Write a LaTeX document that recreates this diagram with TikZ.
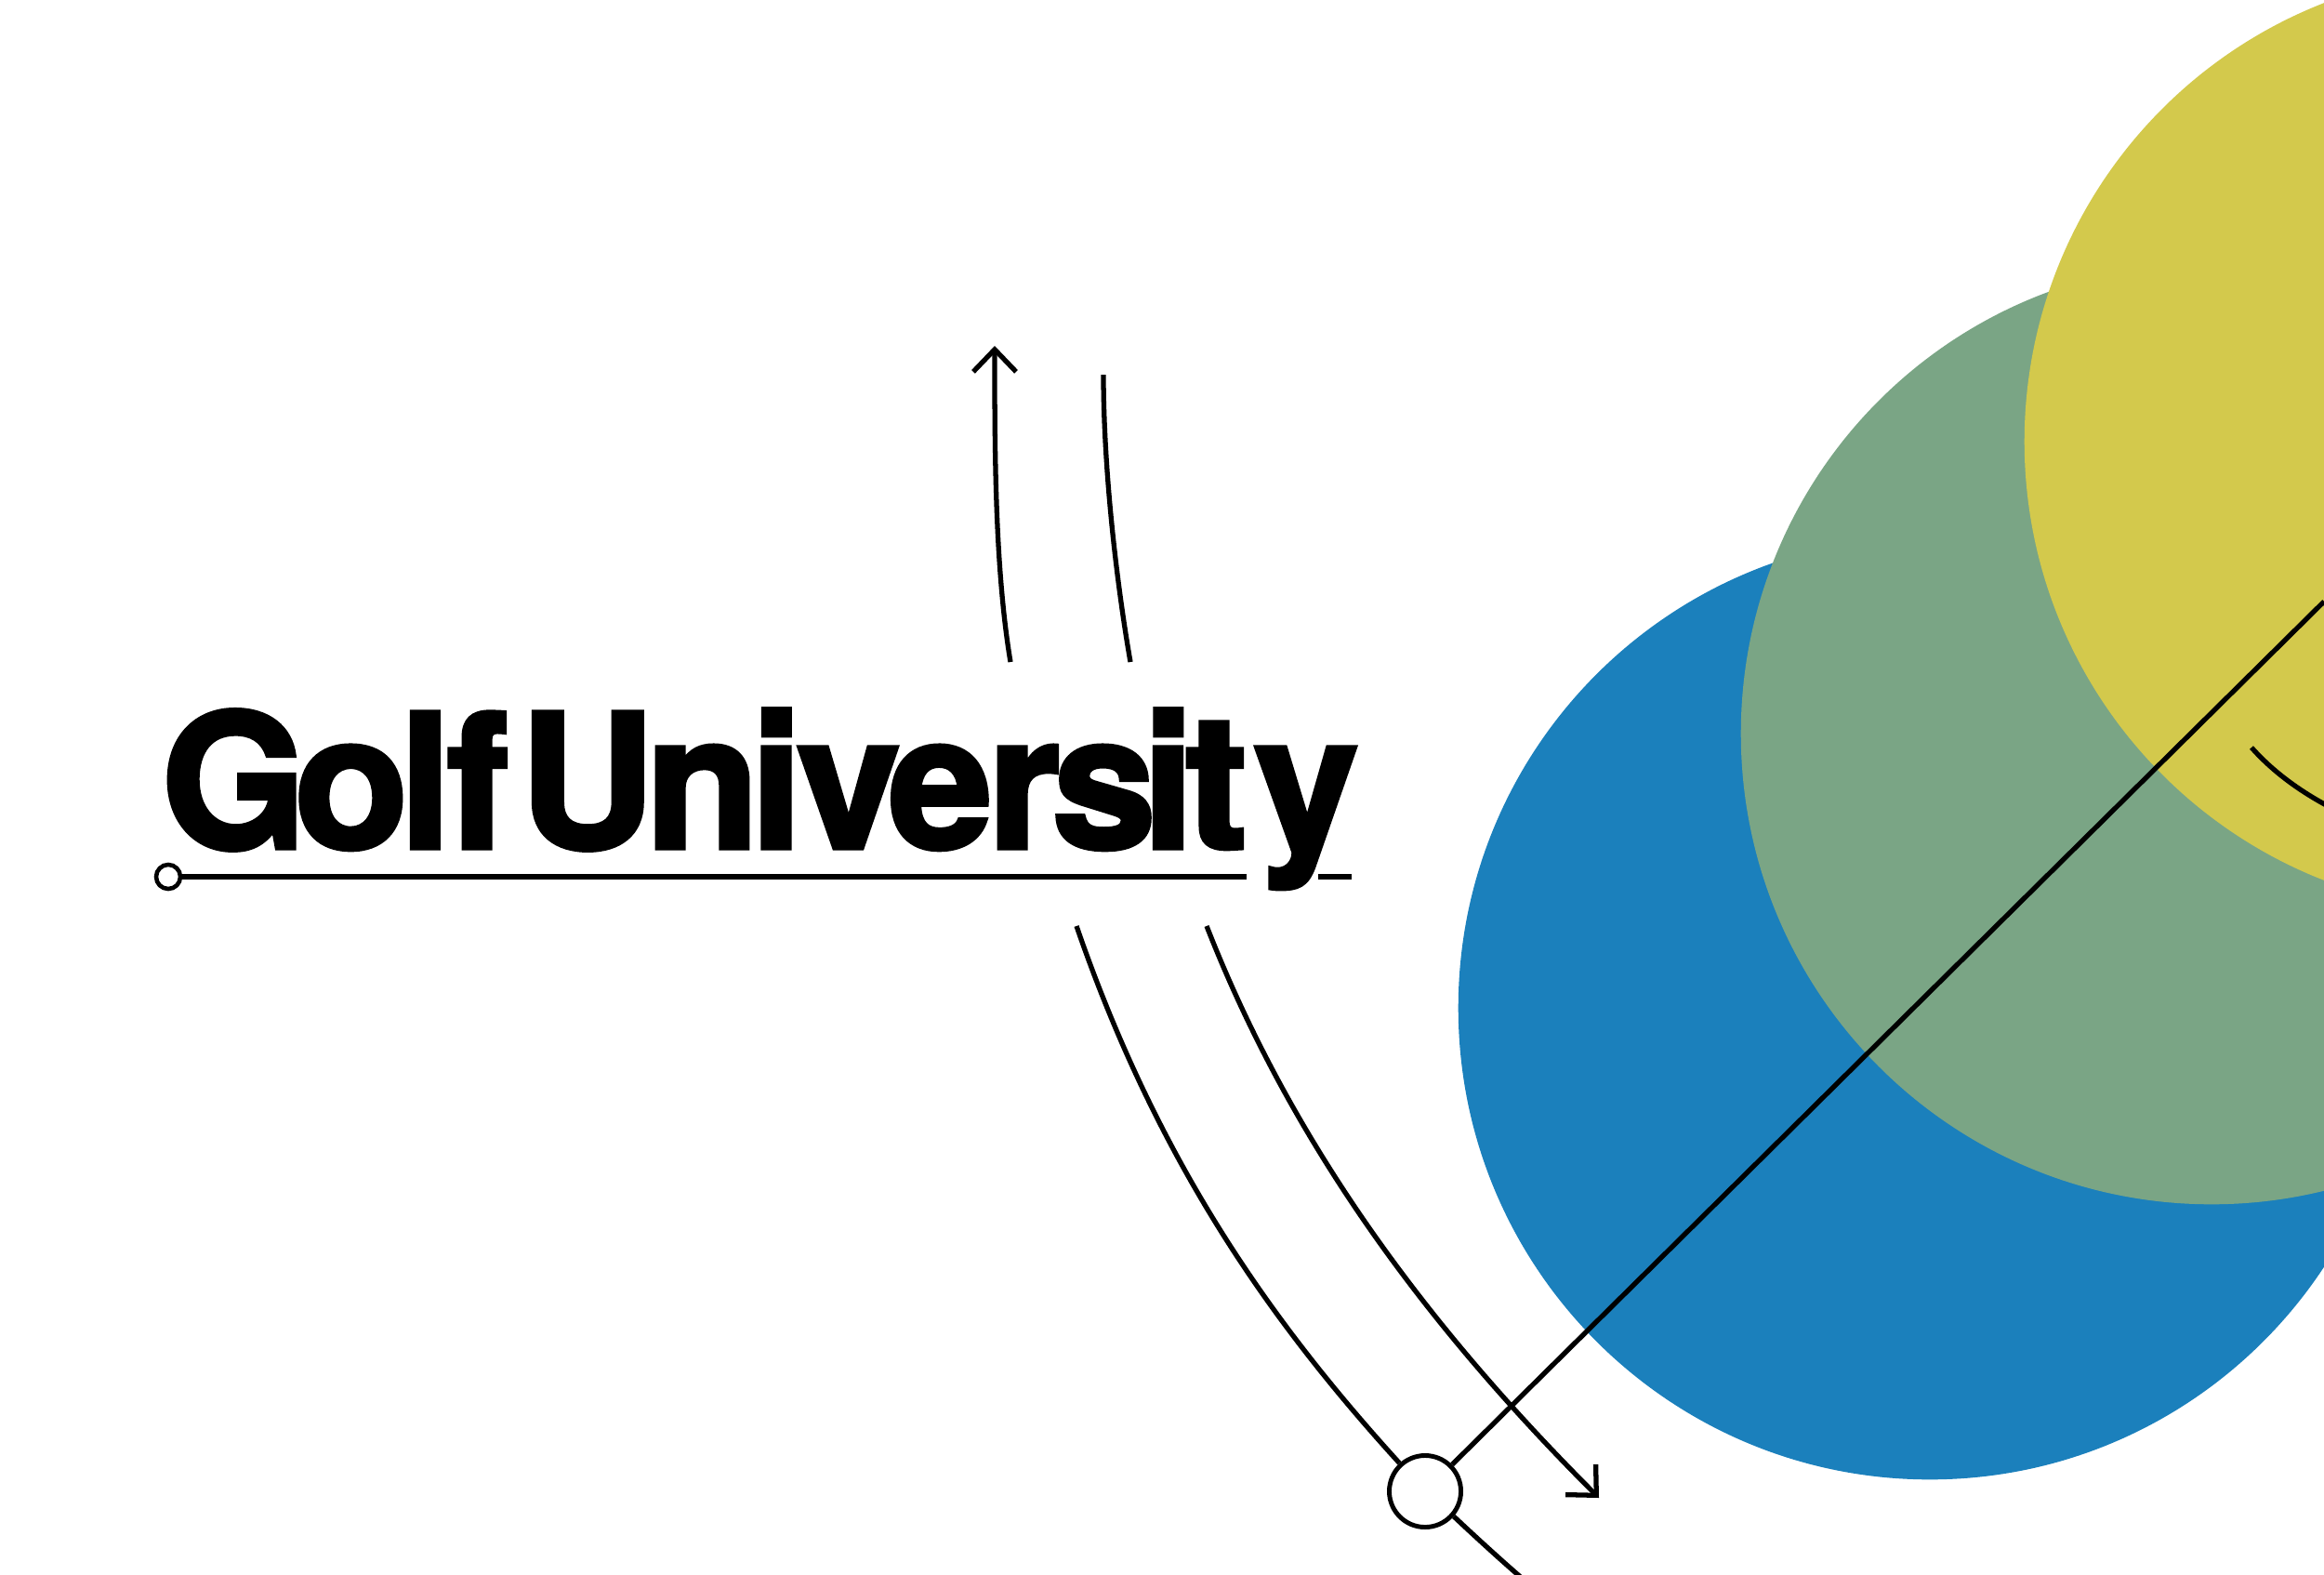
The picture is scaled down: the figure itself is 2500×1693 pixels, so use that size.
\documentclass[tikz,border=0pt]{standalone}
\usepackage{fontspec}
\usepackage{xcolor}
\usetikzlibrary{arrows.meta}
\newfontfamily\logofont[LetterSpace=-4.7,FakeBold=2.5,WordSpace=0.25]{TeX Gyre Heros Bold}
\tikzset{
    arcline/.style={line width=1.5pt},
    barbtip/.style={-{Straight Barb[length=0.24cm,width=0.46cm,line width=1.5pt]}},
    ringnode/.style={draw,circle,inner sep=0pt}
}

\begin{document}
\begin{tikzpicture}[x=0.01cm,y=-0.01cm]
        \definecolor{discblue}{RGB}{27,128,188}
        \definecolor{discgreen}{RGB}{122,165,133}
        \definecolor{discyellow}{RGB}{211,201,76}

        \useasboundingbox (0,0) rectangle (2500,1693);
        \clip (0,0) rectangle (2500,1693);
        \fill[white] (0,0) rectangle (2500,1693);

        \fill[discblue] (2076,1084) circle (5.07cm);
        \fill[discgreen] (2379,789) circle (5.06cm);
        \fill[discyellow] (2684,475) circle (5.06cm);

        \node[anchor=base west,inner sep=0pt] (title) at (173,912) {\logofont\fontsize{57}{60}\selectfont G\kern-3.7pt ol\kern-1.3pt f U\kern-2.7pt ni\kern-1.8pt ve\kern-1.4pt rs\kern-4.1pt it\kern2.2pt y};

        \coordinate (ruleend) at (1341,943);
        \coordinate (rulestub) at (1418,943);
        \coordinate (stubend) at (1454,943);
        \node[ringnode,line width=1.3pt,minimum size=0.26cm] (dot) at (181,943) {};
        \draw[line width=1.75pt] (dot) -- (ruleend);
        \draw[line width=1.75pt] (rulestub) -- (stubend);

        \coordinate (upA) at (1087,712);
        \coordinate (tipA) at (1070,372);
        \coordinate (upB) at (1216,712);
        \coordinate (topB) at (1187,403);
        \draw[arcline,barbtip] (upA) .. controls (1070,610) and (1070,480) .. (tipA);
        \draw[arcline] (upB) .. controls (1200,620) and (1187,500) .. (topB);

        \coordinate (downA) at (1158,996);
        \coordinate (downB) at (1298,996);
        \coordinate (tipB) at (1720,1611);
        \coordinate (endA) at (1639,1699);
        \coordinate (farline) at (2500,647);
        \coordinate (hook) at (2422,804);
        \coordinate (hookend) at (2510,870);
        \node[ringnode,fill=white,line width=1.4pt,minimum size=0.77cm] (hub) at (1533,1604) {};
        \draw[arcline] (downA) .. controls (1248,1257) and (1373,1428) .. (hub);
        \draw[arcline] (hub) .. controls (1565,1632) and (1603,1668) .. (endA);
        \draw[arcline,barbtip] (downB) .. controls (1388,1226) and (1530,1421) .. (tipB);
        \draw[arcline] (hub) -- (farline);
        \draw[arcline] (hook) .. controls (2445,830) and (2475,852) .. (hookend);
    \end{tikzpicture}
\end{document}
